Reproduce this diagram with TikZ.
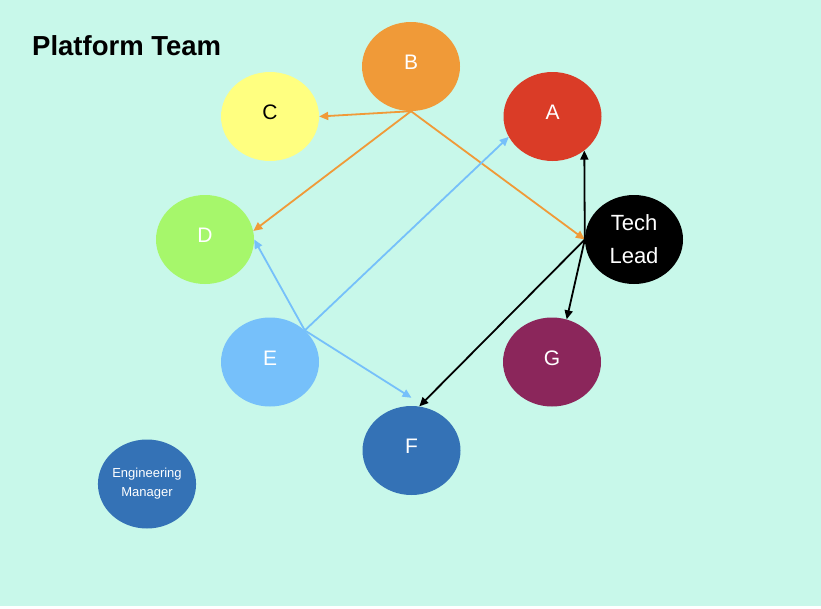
\documentclass[tikz,border=0pt]{standalone}
\usepackage{fontspec}
\setmainfont{Liberation Sans}
\usepackage{tikz}
\usetikzlibrary{positioning, shapes.geometric, arrows.meta}
\definecolor{mint}{HTML}{C8F8EA}
\definecolor{orangeB}{HTML}{F09A38}
\definecolor{yellowC}{HTML}{FFFF80}
\definecolor{redA}{HTML}{DA3C27}
\definecolor{greenD}{HTML}{A6F76B}
\definecolor{blueE}{HTML}{76C0FA}
\definecolor{plumG}{HTML}{8B265B}
\definecolor{blueF}{HTML}{3472B6}

\begin{document}
\begin{tikzpicture}[on grid,
    member/.style={ellipse, minimum width=98pt, minimum height=89pt, inner sep=0pt, text=white, text depth=8pt, font=\fontsize{21}{25}\selectfont},
    link/.style={line width=1.8pt, -{Triangle[length=9pt, width=8pt]}}]
    \fill[mint] (0,0) rectangle (821pt,-606pt);
    \useasboundingbox (0,0) rectangle (821pt,-608pt);
    \node[anchor=base west, inner sep=0pt, font=\fontsize{27.5}{31}\selectfont\bfseries] (title) at (32pt,-55.5pt) {Platform Team};
    \node[member, fill=orangeB] (B) at (411pt,-66.5pt) {B};
    \node[member, fill=yellowC, text=black, below left=50pt and 141pt of B] (C) {C};
    \node[member, fill=redA, below right=50pt and 141.5pt of B] (A) {A};
    \node[member, fill=greenD, below left=123pt and 65pt of C] (D) {D};
    \node[member, fill=black, below right=123pt and 81.5pt of A, align=center, text depth=, font=\fontsize{22}{33}\selectfont] (lead) {Tech\\Lead};
    \node[member, fill=blueE, below right=122.5pt and 65pt of D] (E) {E};
    \node[member, fill=plumG, below left=122.5pt and 82pt of lead] (G) {G};
    \node[member, fill=blueF, below right=88.5pt and 141.5pt of E] (F) {F};
    \node[member, fill=blueF, below left=122pt and 123pt of E, align=center, text depth=, font=\fontsize{13}{19}\selectfont] (em) {Engineering\\Manager};

    \draw[link, orangeB] (B.south) -- (C.east);
    \draw[link, orangeB] (B.south) -- (D.10);
    \draw[link, orangeB] (B.south) -- (lead.west);
    \draw[link, black] (lead.west) -- (A.-47);
    \draw[link, black] (lead.west) -- (G.71);
    \draw[link, black] (lead.west) -- (F.80);
    \draw[link, blueE] (E.north east) -- (A.205);
    \draw[link, blueE] (E.north east) -- (D.east);
    \draw[link, blueE] (E.north east) -- ([yshift=8pt]F.north);
\end{tikzpicture}
\end{document}
